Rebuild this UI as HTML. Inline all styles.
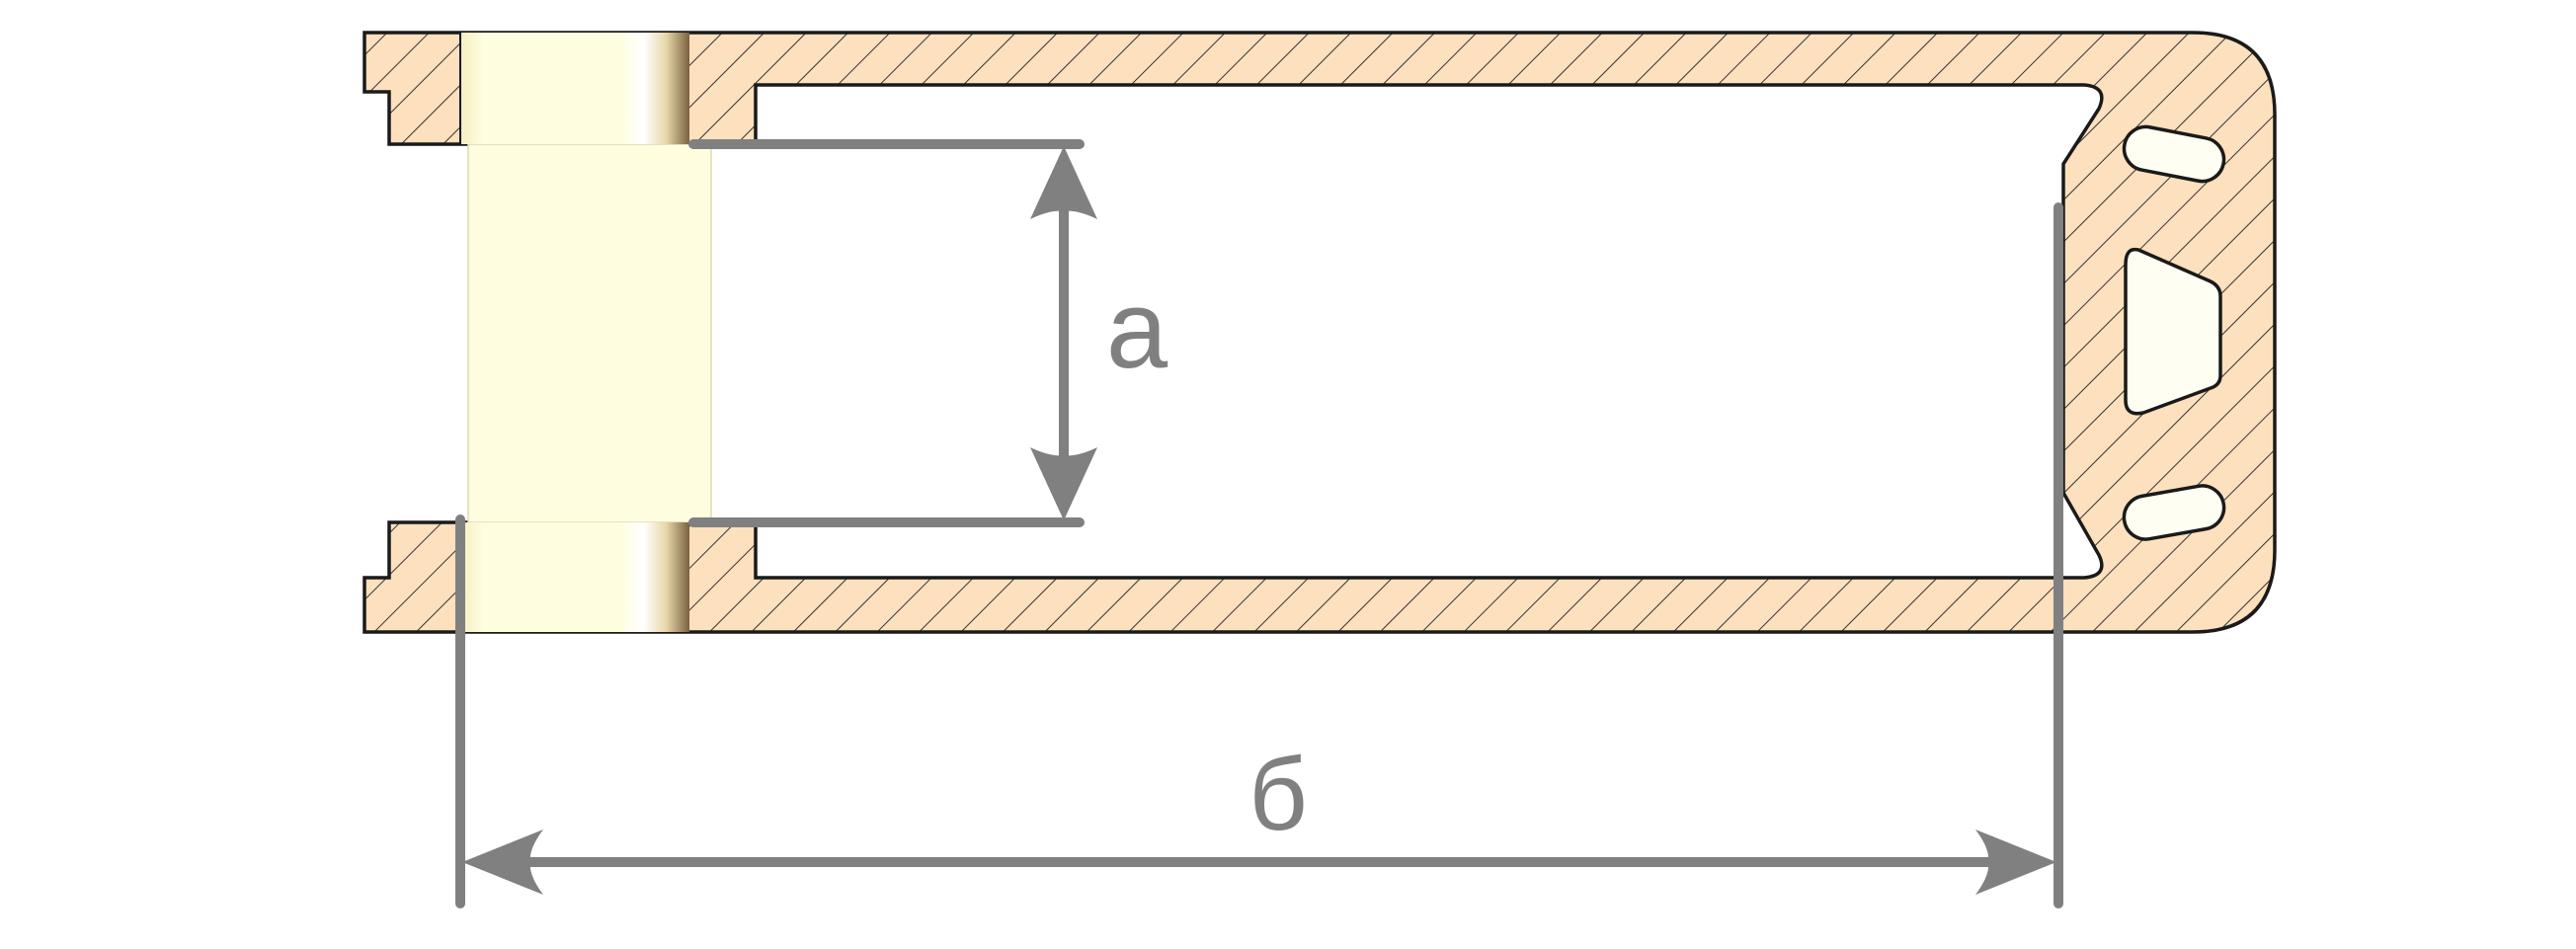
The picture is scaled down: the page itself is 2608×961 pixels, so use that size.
<!DOCTYPE html>
<html><head><meta charset="utf-8"><style>html,body{margin:0;padding:0;background:#fff}svg{display:block}</style></head>
<body>
<svg width="2608" height="961" viewBox="0 0 2608 961" xmlns="http://www.w3.org/2000/svg">
<defs>
<pattern id="h" patternUnits="userSpaceOnUse" width="30" height="30" patternTransform="rotate(-45)">
<rect width="30" height="30" fill="#fde0bd"/><line x1="0" y1="0" x2="30" y2="0" stroke="#333" stroke-width="2"/>
</pattern>
<linearGradient id="sl" x1="0" x2="1" y1="0" y2="0">
<stop offset="0" stop-color="#f6eec0"/><stop offset="0.1" stop-color="#fffde0"/><stop offset="0.7" stop-color="#fffde0"/><stop offset="0.8" stop-color="#ffffff"/><stop offset="0.9" stop-color="#e6d6a8"/><stop offset="1" stop-color="#7a6040"/>
</linearGradient>
</defs>
<path d="M369,33 H2220 Q2303,33 2303,116 V557 Q2303,640 2220,640 H369 V585 H394 V529 H765 V585 H2110 Q2135,583 2125,562 L2089,499 V166 L2125,110 Q2135,88 2110,86 H765 V146 H394 V93 H369 Z" fill="url(#h)" stroke="#1a1a1a" stroke-width="3.5"/>
<g fill="#fffef3" stroke="#1a1a1a" stroke-width="3.5">
<rect x="2150" y="134" width="102" height="44" rx="22" transform="rotate(11 2201 156)"/>
<path d="M2165,253 L2238,285 Q2248,290 2248,300 V380 Q2248,390 2238,393 L2170,418 Q2152,422 2152,405 V268 Q2152,250 2165,253 Z"/>
<rect x="2150" y="497" width="102" height="44" rx="22" transform="rotate(-10 2201 519)"/>
</g>
<rect x="474" y="146" width="246" height="383" fill="#fffde0" stroke="#e0d8b0" stroke-width="1.5"/>
<rect x="466" y="33" width="232" height="113" fill="url(#sl)"/>
<rect x="466" y="529" width="232" height="111" fill="url(#sl)"/>
<line x1="466" y1="33" x2="466" y2="146" stroke="#1a1a1a" stroke-width="2"/>
<g stroke="#808080" stroke-width="10" stroke-linecap="round" fill="none">
<line x1="702" y1="146" x2="1093" y2="146"/>
<line x1="702" y1="529" x2="1093" y2="529"/>
<line x1="1077" y1="200" x2="1077" y2="475"/>
<line x1="466" y1="526" x2="466" y2="915"/>
<line x1="2084" y1="210" x2="2084" y2="915"/>
<line x1="530" y1="873" x2="2020" y2="873"/>
</g>
<g fill="#808080">
<path d="M1077,148 L1111,222 Q1090,212 1077,214 Q1064,212 1043,222 Z"/>
<path d="M1077,527 L1111,453 Q1090,463 1077,461 Q1064,463 1043,453 Z"/>
<path d="M468,873 L550,840 Q535,860 537,873 Q535,886 550,906 Z"/>
<path d="M2082,873 L2000,840 Q2015,860 2013,873 Q2015,886 2000,906 Z"/>
</g>
<text x="1151" y="372" font-family="Liberation Sans, sans-serif" font-size="112" fill="#808080" text-anchor="middle">a</text>
<text x="1294" y="840" font-family="Liberation Sans, sans-serif" font-size="104" fill="#808080" text-anchor="middle">б</text>
</svg>
</body></html>
